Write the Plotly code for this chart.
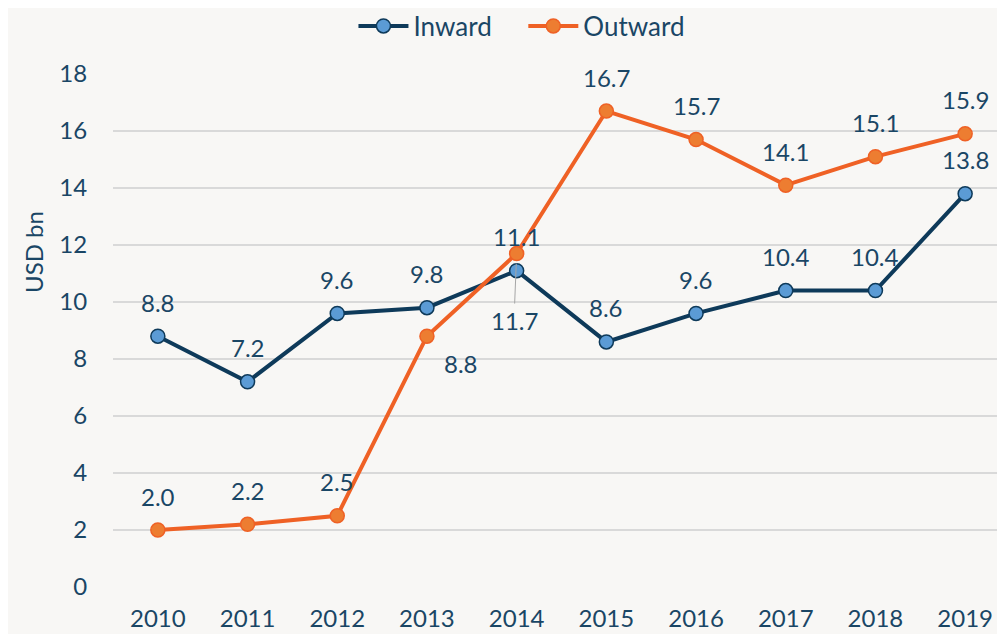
import plotly.graph_objects as go

years = [2010, 2011, 2012, 2013, 2014, 2015, 2016, 2017, 2018, 2019]
inward = [8.8, 7.2, 9.6, 9.8, 11.1, 8.6, 9.6, 10.4, 10.4, 13.8]
outward = [2.0, 2.2, 2.5, 8.8, 11.7, 16.7, 15.7, 14.1, 15.1, 15.9]
inward_pos = ["above"] * 10
outward_pos = ["above", "above", "above", "below-right", "leader",
               "above", "above", "above", "above", "above"]
y_ticks = [0, 2, 4, 6, 8, 10, 12, 14, 16, 18]

TXT = "#1A4665"
FONT = "Lato"
FS = 24
NAVY = "#0E3A5A"
ORANGE = "#EF6125"
W, H = 997, 626  # page body adds an 8px margin

fig = go.Figure()
fig.add_trace(go.Scatter(
    x=years, y=inward, name="Inward\u00a0\u00a0\u00a0\u00a0", mode="lines+markers",
    line=dict(color=NAVY, width=4),
    marker=dict(size=14, color="#5B9BD5", line=dict(color=NAVY, width=1.5)),
    cliponaxis=False,
))
fig.add_trace(go.Scatter(
    x=years, y=outward, name="Outward", mode="lines+markers",
    line=dict(color=ORANGE, width=4),
    marker=dict(size=14, color="#ED7D31", line=dict(color=ORANGE, width=1.5)),
    cliponaxis=False,
))

def label(x, y, pos):
    common = dict(x=x, y=y, text=f"{y:.1f}", font=dict(size=FS, color=TXT, family=FONT))
    if pos == "above":
        fig.add_annotation(**common, showarrow=False, yshift=34)
    elif pos == "below-right":
        fig.add_annotation(**common, showarrow=False, yshift=-27, xshift=34)
    elif pos == "leader":
        fig.add_annotation(**common, showarrow=True, arrowhead=0, arrowwidth=1,
                           arrowcolor="#A6A6A6", ax=-2, ay=50, standoff=10,
                           startstandoff=0, yanchor="top")

for x, y, p in zip(years, inward, inward_pos):
    label(x, y, p)
for x, y, p in zip(years, outward, outward_pos):
    label(x, y, p)

fig.add_annotation(text="USD bn", xref="paper", yref="paper", x=0, y=0.653,
                   xanchor="center", yanchor="middle", xshift=-80, textangle=-90,
                   showarrow=False, font=dict(size=FS, color=TXT, family=FONT))

fig.update_layout(
    width=W, height=H,
    paper_bgcolor="#F8F7F5", plot_bgcolor="#F8F7F5",
    margin=dict(l=105, r=0, t=66, b=47, autoexpand=False),
    font=dict(family=FONT, color=TXT, size=FS),
    showlegend=True,
    legend=dict(orientation="h", x=0.515, xanchor="center", xref="container",
                y=1 - 18 / H, yanchor="middle", yref="container",
                font=dict(size=26, color=TXT, family=FONT),
                bgcolor="rgba(0,0,0,0)", itemwidth=50),
)
fig.update_xaxes(range=[2009.5, 2009.5 + (W - 105) / 89.7], tickvals=years, showgrid=False,
                 automargin=False, showline=False, zeroline=False, ticks="outside",
                 ticklen=10, tickcolor="rgba(0,0,0,0)", tickfont=dict(size=FS, color=TXT))
fig.update_yaxes(range=[0, 18], tickvals=y_ticks, showgrid=True, gridcolor="#D9D9D9",
                 gridwidth=1.5, zeroline=False, showline=False, ticks="outside",
                 ticklen=20, tickcolor="rgba(0,0,0,0)", tickfont=dict(size=FS, color=TXT),
                 automargin=False)
fig.write_html("out.html")
